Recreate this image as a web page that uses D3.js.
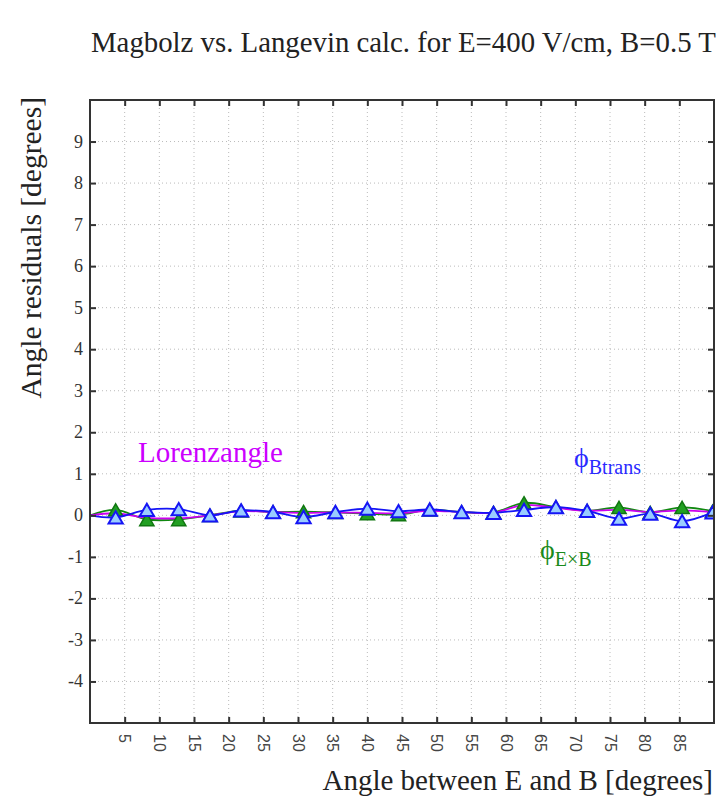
<!DOCTYPE html>
<html>
<head>
<meta charset="utf-8">
<script src="https://cdn.jsdelivr.net/npm/d3@7"></script>
<style>
  body { margin: 0; background: #fff; }
  text { font-family: "Liberation Serif", "Times New Roman", serif; }
</style>
</head>
<body>
<div id="chart"></div>
<script>
// angle between E and B (degrees) at which residuals were computed
const angles = [0, 3.7, 8.2, 12.8, 17.3, 21.8, 26.4, 30.8, 35.4, 40.0, 44.5,
                49.0, 53.6, 58.2, 62.6, 67.2, 71.7, 76.3, 80.8, 85.4, 89.8];

// residuals Magboltz - Langevin [degrees]
const lorentzRes = [0, 0.05, -0.06, -0.07, 0.0, 0.10, 0.08, 0.06, 0.07, 0.06, 0.05,
                    0.11, 0.08, 0.06, 0.25, 0.18, 0.11, 0.13, 0.08, 0.12, 0.08];
const exbRes = [0, 0.13, -0.10, -0.10, 0.0, 0.11, 0.08, 0.09, 0.07, 0.04, 0.02,
                0.13, 0.08, 0.07, 0.30, 0.20, 0.11, 0.19, 0.07, 0.19, 0.10];
const btransRes = [0, -0.05, 0.13, 0.15, 0.0, 0.12, 0.08, -0.04, 0.08, 0.16, 0.10,
                   0.14, 0.08, 0.06, 0.13, 0.20, 0.11, -0.08, 0.04, -0.14, 0.07];

const xTicks = d3.range(5, 90, 5);
const yTicks = d3.range(-4, 10, 1);

const W = 728, H = 799;
const margin = { top: 100, right: 14, bottom: 76, left: 90 },
      width = W - margin.left - margin.right,
      height = H - margin.top - margin.bottom;

const svg = d3.select("#chart")
  .append("svg")
  .attr("width", W)
  .attr("height", H);

const g = svg.append("g")
  .attr("transform", `translate(${margin.left},${margin.top})`);

// Scales
const x = d3.scaleLinear().domain([0, 90]).range([0, width]);
const y = d3.scaleLinear().domain([-5, 10]).range([height, 0]);

// Dotted grid
g.append("g")
  .selectAll("line")
  .data(xTicks)
  .enter()
  .append("line")
  .attr("x1", d => x(d)).attr("x2", d => x(d))
  .attr("y1", 0).attr("y2", height)
  .attr("stroke", "#bbb")
  .attr("stroke-width", 1)
  .attr("stroke-dasharray", "1,3");

g.append("g")
  .selectAll("line")
  .data(yTicks)
  .enter()
  .append("line")
  .attr("x1", 0).attr("x2", width)
  .attr("y1", d => y(d)).attr("y2", d => y(d))
  .attr("stroke", "#bbb")
  .attr("stroke-width", 1)
  .attr("stroke-dasharray", "1,3");

// Clip region for data
svg.append("defs").append("clipPath")
  .attr("id", "plot-clip")
  .append("rect")
  .attr("width", width)
  .attr("height", height);

const plot = g.append("g").attr("clip-path", "url(#plot-clip)");

const line = d3.line()
  .x(d => x(d[0]))
  .y(d => y(d[1]))
  .curve(d3.curveCatmullRom);

const exbPts = angles.map((a, i) => [a, exbRes[i]]);
const btransPts = angles.map((a, i) => [a, btransRes[i]]);
const lorentzPts = angles.map((a, i) => [a, lorentzRes[i]]);

// upward triangle centred on its bounding box (like ROOT markers)
const boxTriangle = {
  draw(ctx, size) {
    const s = Math.sqrt(size * 4 / Math.sqrt(3));
    const h = s * Math.sqrt(3) / 2;
    ctx.moveTo(0, -h / 2);
    ctx.lineTo(s / 2, h / 2);
    ctx.lineTo(-s / 2, h / 2);
    ctx.closePath();
  }
};
const tri = d3.symbol().type(boxTriangle).size(88);

// E x B series
plot.append("path")
  .datum(exbPts)
  .attr("fill", "none")
  .attr("stroke", "#118811")
  .attr("stroke-width", 1.8)
  .attr("d", line);

// Lorentz angle series
plot.append("path")
  .datum(lorentzPts)
  .attr("fill", "none")
  .attr("stroke", "#cc00ee")
  .attr("stroke-width", 1.8)
  .attr("d", line);

plot.selectAll(".exb")
  .data(exbPts.slice(1))
  .enter()
  .append("path")
  .attr("class", "exb")
  .attr("transform", d => `translate(${x(d[0])},${y(d[1])})`)
  .attr("d", tri)
  .attr("fill", "#22a022")
  .attr("stroke", "#117711")
  .attr("stroke-width", 1.5);

// B trans series
plot.append("path")
  .datum(btransPts)
  .attr("fill", "none")
  .attr("stroke", "#1515f5")
  .attr("stroke-width", 1.8)
  .attr("d", line);

plot.selectAll(".bt")
  .data(btransPts.slice(1))
  .enter()
  .append("path")
  .attr("class", "bt")
  .attr("transform", d => `translate(${x(d[0])},${y(d[1])})`)
  .attr("d", tri)
  .attr("fill", "#99ccff")
  .attr("stroke", "#1515f5")
  .attr("stroke-width", 2);

// Axes: ticks pointing inwards on all four sides
const tickLen = 6;
g.append("g")
  .attr("transform", `translate(0,${height})`)
  .call(d3.axisTop(x).tickValues(xTicks).tickSize(tickLen).tickFormat(""))
  .call(a => a.select(".domain").remove());
g.append("g")
  .call(d3.axisBottom(x).tickValues(xTicks).tickSize(tickLen).tickFormat(""))
  .call(a => a.select(".domain").remove());
g.append("g")
  .call(d3.axisRight(y).tickValues(yTicks).tickSize(tickLen).tickFormat(""))
  .call(a => a.select(".domain").remove());
g.append("g")
  .attr("transform", `translate(${width},0)`)
  .call(d3.axisLeft(y).tickValues(yTicks).tickSize(tickLen).tickFormat(""))
  .call(a => a.select(".domain").remove());

g.selectAll(".tick line")
  .attr("stroke", "#333")
  .attr("stroke-width", 2);

// Frame
g.append("rect")
  .attr("width", width)
  .attr("height", height)
  .attr("fill", "none")
  .attr("stroke", "#333")
  .attr("stroke-width", 2);

// Tick labels
g.append("g")
  .selectAll("text")
  .data(yTicks)
  .enter()
  .append("text")
  .attr("x", -7)
  .attr("y", d => y(d) + 6)
  .attr("text-anchor", "end")
  .attr("fill", "#333")
  .style("font-family", "'Liberation Serif', serif")
  .style("font-size", "18px")
  .text(d => d);

g.append("g")
  .selectAll("text")
  .data(xTicks)
  .enter()
  .append("text")
  .attr("transform", d => `translate(${x(d) - 5.5},${height + 11}) rotate(90)`)
  .attr("text-anchor", "start")
  .attr("fill", "#444")
  .style("font-family", "'Liberation Sans', Arial, sans-serif")
  .style("font-size", "16px")
  .text(d => d);

// Titles
svg.append("text")
  .attr("x", 91)
  .attr("y", 52)
  .attr("fill", "#222")
  .style("font-size", "28.8px")
  .text("Magbolz vs. Langevin calc. for E=400 V/cm, B=0.5 T");

svg.append("text")
  .attr("x", 713)
  .attr("y", 790)
  .attr("text-anchor", "end")
  .attr("fill", "#222")
  .style("font-size", "29px")
  .text("Angle between E and B [degrees]");

svg.append("text")
  .attr("transform", "translate(41,97) rotate(-90)")
  .attr("text-anchor", "end")
  .attr("fill", "#222")
  .style("font-size", "29.5px")
  .text("Angle residuals [degrees]");

// Series labels
svg.append("text")
  .attr("x", 138)
  .attr("y", 462)
  .attr("fill", "#cc00ff")
  .style("font-size", "29px")
  .text("Lorenzangle");

const bLab = svg.append("text")
  .attr("x", 574)
  .attr("y", 467)
  .attr("fill", "#2a2aff");
bLab.append("tspan").style("font-size", "28px").text("\u03d5");
bLab.append("tspan").attr("dy", 7).style("font-size", "20px").text("Btrans");

const eLab = svg.append("text")
  .attr("x", 540)
  .attr("y", 559)
  .attr("fill", "#1a8a1a");
eLab.append("tspan").style("font-size", "28px").text("\u03d5");
eLab.append("tspan").attr("dy", 7).style("font-size", "20px").text("E\u00d7B");
</script>
</body>
</html>
